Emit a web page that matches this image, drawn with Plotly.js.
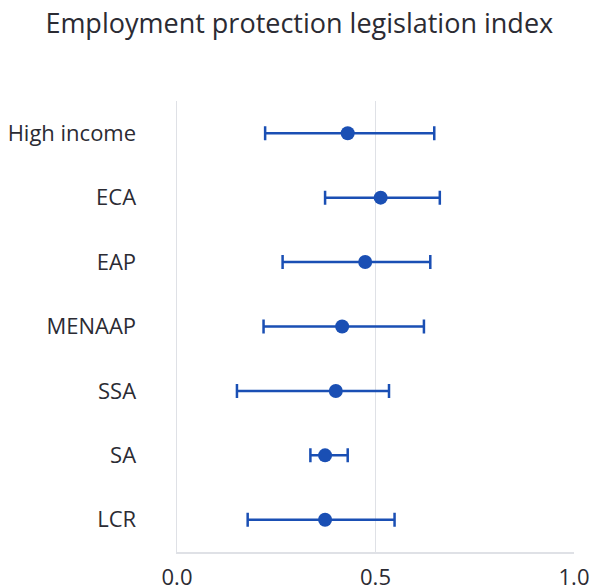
<!DOCTYPE html>
<html>
<head>
<meta charset="utf-8">
<script src="https://cdn.plot.ly/plotly-3.0.1.min.js"></script>
<style>
  html, body { margin: 0; padding: 0; background: #ffffff; }
  #chart { width: 595px; height: 585px; }
</style>
</head>
<body>
<div id="chart"></div>
<script>
// Regions, listed top to bottom as they appear on the chart
const regions = ["High income", "ECA", "EAP", "MENAAP", "SSA", "SA", "LCR"];
// Point estimate of the index for each region
const meanValues = [0.430, 0.513, 0.474, 0.416, 0.400, 0.373, 0.373];
// Lower and upper ends of each range
const lowValues  = [0.222, 0.373, 0.266, 0.218, 0.151, 0.336, 0.178];
const highValues = [0.648, 0.662, 0.638, 0.622, 0.534, 0.430, 0.548];
// Axis ticks
const xTickValues = [0, 0.5, 1];
const xTickLabels = ["0.0", "0.5", "1.0"];

const blue = "#1a4fb4";
const textColor = "#2b2b33";
const gridColor = "#dfe1e6";

const trace = {
  type: "scatter",
  mode: "markers",
  x: meanValues,
  y: regions,
  marker: { color: blue, size: 14 },
  error_x: {
    type: "data",
    symmetric: false,
    array: highValues.map((h, i) => h - meanValues[i]),
    arrayminus: lowValues.map((l, i) => meanValues[i] - l),
    color: blue,
    thickness: 2.5,
    width: 7
  },
  hoverinfo: "x+y",
  showlegend: false
};

const layout = {
  width: 595,
  height: 585,
  margin: { l: 177, r: 21, t: 101, b: 33 },
  paper_bgcolor: "#ffffff",
  plot_bgcolor: "#ffffff",
  font: { family: "Open Sans, sans-serif", color: textColor, size: 22 },
  title: {
    text: "Employment protection legislation index",
    font: { family: "Open Sans, sans-serif", size: 27, color: textColor },
    x: 0.503,
    xanchor: "center",
    xref: "container",
    y: 0.959,
    yanchor: "middle",
    yref: "container"
  },
  xaxis: {
    range: [0, 1],
    tickvals: xTickValues,
    ticktext: xTickLabels,
    showgrid: true,
    gridcolor: gridColor,
    gridwidth: 1,
    zeroline: false,
    showline: true,
    linecolor: gridColor,
    linewidth: 1.5,
    ticks: "",
    ticklabelstandoff: 5,
    tickfont: { size: 22, color: textColor },
    fixedrange: true
  },
  yaxis: {
    type: "category",
    categoryorder: "array",
    categoryarray: regions.slice().reverse(),
    range: [-0.5, regions.length - 0.5],
    showgrid: false,
    zeroline: false,
    showline: true,
    linecolor: gridColor,
    linewidth: 1.5,
    ticks: "",
    ticklabelstandoff: 35,
    tickfont: { size: 22, color: textColor },
    fixedrange: true
  }
};

Plotly.newPlot("chart", [trace], layout, { displayModeBar: false, staticPlot: true });
</script>
</body>
</html>
